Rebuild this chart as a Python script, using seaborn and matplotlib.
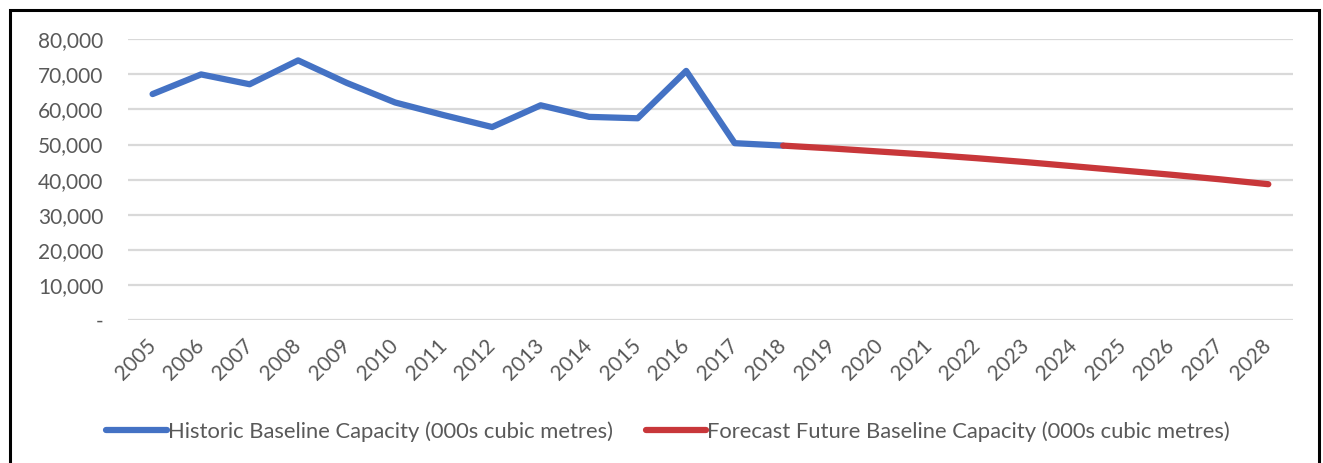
import matplotlib
matplotlib.use("Agg")
import matplotlib.pyplot as plt
import matplotlib.ticker as mticker
from matplotlib.patches import Rectangle
import seaborn as sns
import pandas as pd

# ---- data ----
hist_years = list(range(2005, 2019))
hist_values = [64400, 70000, 67200, 74000, 67600, 62000, 58400, 55000,
               61200, 57900, 57500, 71000, 50400, 49700]
fc_years = list(range(2018, 2029))
fc_values = [49700, 48900, 48000, 47100, 46100, 45000, 43800, 42600,
             41400, 40100, 38700]
series_names = ["Historic Baseline Capacity (000s cubic metres)",
                "Forecast Future Baseline Capacity (000s cubic metres)"]
all_years = list(range(2005, 2029))
y_ticks = [0, 10000, 20000, 30000, 40000, 50000, 60000, 70000, 80000]

df = pd.concat([
    pd.DataFrame({"Year": hist_years, "Value": hist_values, "Series": series_names[0]}),
    pd.DataFrame({"Year": fc_years, "Value": fc_values, "Series": series_names[1]}),
], ignore_index=True)

sns.set_theme(style="white")
plt.rcParams["font.family"] = ["Lato", "DejaVu Sans"]

fig = plt.figure(figsize=(13.23, 4.63), dpi=100)
ax = fig.add_axes([0.097, 0.309, 0.880, 0.606])

palette = {series_names[0]: "#4472C4", series_names[1]: "#C8373A"}
sns.lineplot(data=df, x="Year", y="Value", hue="Series", palette=palette,
             linewidth=4.5, ax=ax, legend=True, solid_capstyle="round")

ax.set_xlim(2004.5, 2028.5)
ax.set_ylim(0, 80000)
ax.set_yticks(y_ticks)
ax.yaxis.set_major_formatter(mticker.FuncFormatter(
    lambda v, p: "-" if v == 0 else f"{v:,.0f}"))
ax.set_xticks(all_years)
ax.set_xticklabels([str(y) for y in all_years], rotation=45, ha="right",
                   va="center", rotation_mode="anchor")
ax.tick_params(axis="x", labelsize=15, colors="#595959", pad=16, length=0)
ax.tick_params(axis="y", labelsize=15, colors="#595959", pad=18, length=0)
ax.set_xlabel("")
ax.set_ylabel("")
ax.grid(axis="y", color="#d9d9d9", linewidth=1.6)
ax.grid(axis="x", visible=False)
for s in ax.spines.values():
    s.set_visible(False)
ax.set_axisbelow(True)

handles, labels = ax.get_legend_handles_labels()
ax.legend_.remove()
leg = fig.legend(handles, labels, loc="center", bbox_to_anchor=(0.505, 0.068),
                 ncol=2, frameon=False, fontsize=15.8, handlelength=2.75,
                 handletextpad=0.05, columnspacing=1.5)
for t in leg.get_texts():
    t.set_color("#595959")

fig.patches.append(Rectangle((0.0075, -0.01), 0.9895, 0.988, transform=fig.transFigure,
                             fill=False, edgecolor="black", linewidth=2.2))

fig.savefig("out.png", dpi=100)
